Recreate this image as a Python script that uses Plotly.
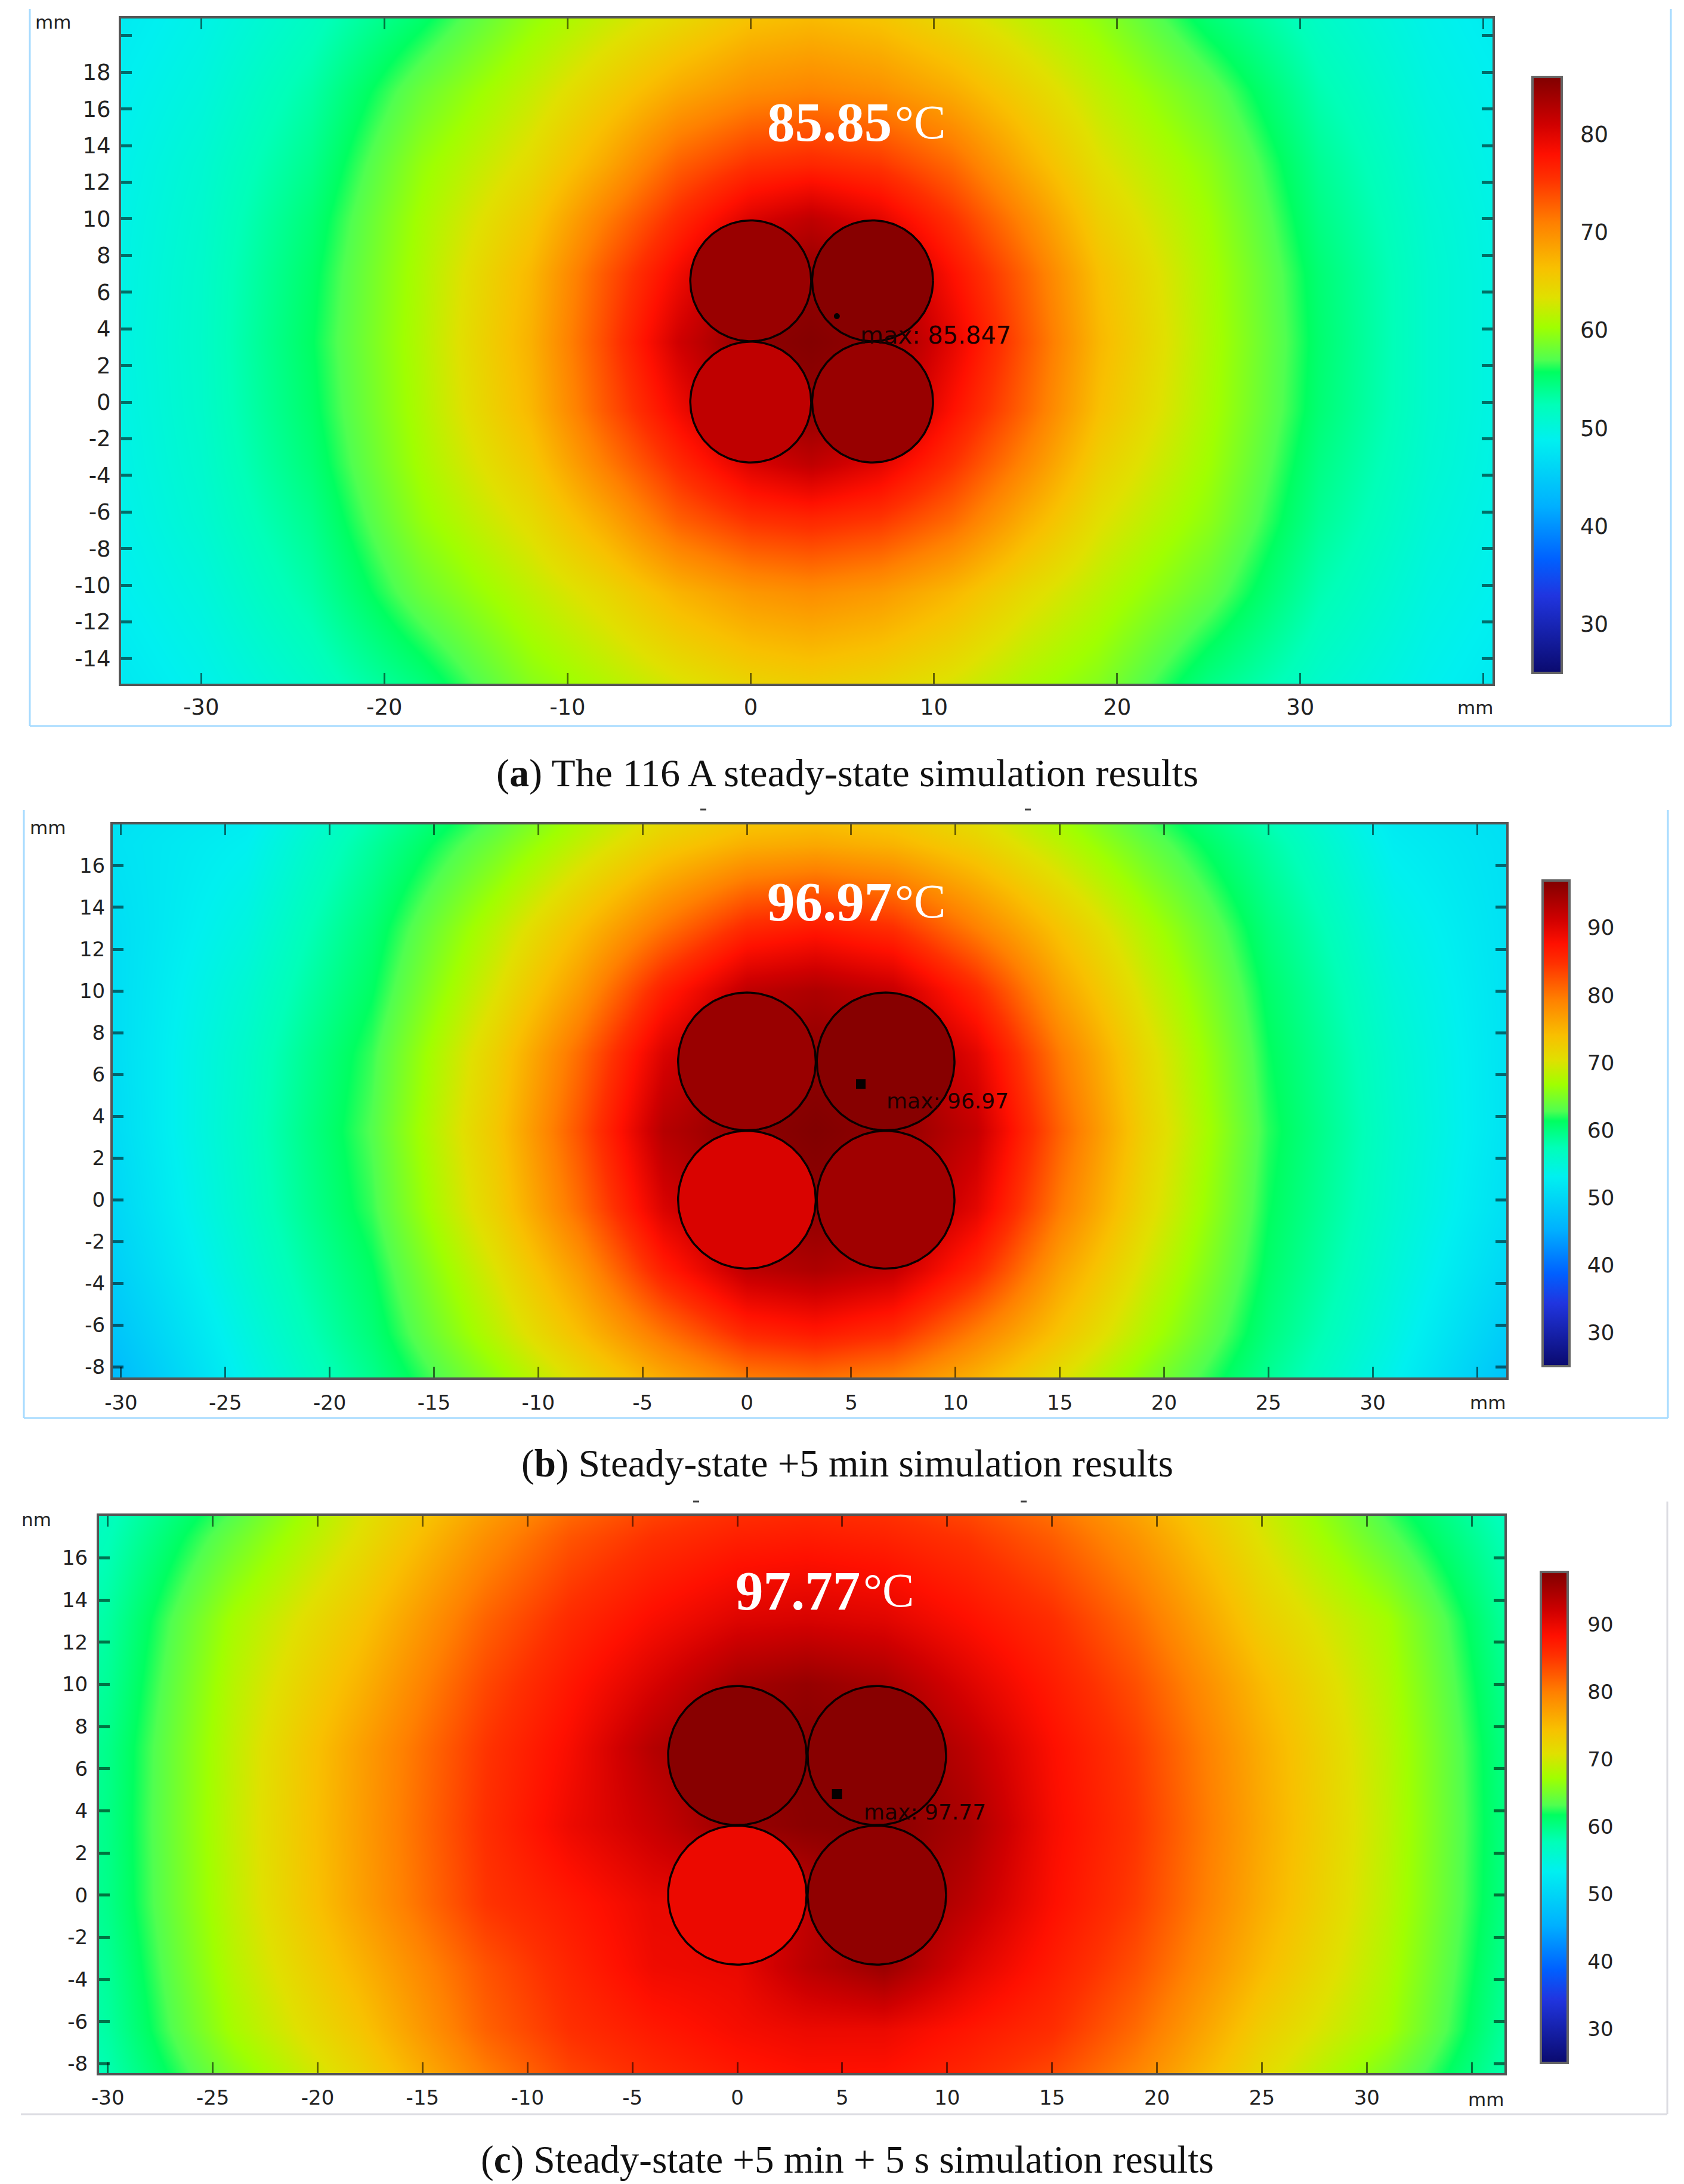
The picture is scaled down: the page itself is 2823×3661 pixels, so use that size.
import numpy as np
import plotly.graph_objects as go
from plotly.colors import sample_colorscale

W, H = 2823, 3661

COLORSCALE = [
    [0.00, "rgb(10,10,110)"], [0.13, "rgb(32,53,224)"], [0.19, "rgb(0,96,255)"],
    [0.28, "rgb(0,176,255)"], [0.39, "rgb(0,240,240)"], [0.45, "rgb(0,255,184)"],
    [0.505, "rgb(0,255,96)"], [0.525, "rgb(80,255,80)"], [0.58, "rgb(160,255,0)"],
    [0.63, "rgb(224,224,0)"], [0.68, "rgb(248,192,0)"], [0.755, "rgb(255,128,0)"],
    [0.83, "rgb(255,48,0)"], [0.87, "rgb(255,16,0)"], [0.92, "rgb(208,0,0)"],
    [1.00, "rgb(128,0,0)"],
]
T_MIN = 25.0

# ---- panel (a)
a_x = [-36, -30, -24, -18, -12, -8, -4, 0, 3.3, 7, 11, 15, 19, 25, 31, 37, 42]
a_y = [-16, -10.4, -6.4, -3.4, -0.4, 3.3, 7, 10, 13, 17, 22]
a_T = [
    [47.4, 49.0, 51.2, 54.3, 58.9, 60.7, 62.5, 64.0, 64.5, 63.9, 62.5, 60.5, 58.8, 54.0, 51.0, 48.9, 47.6],
    [48.2, 50.0, 53.0, 58.0, 61.7, 64.2, 67.3, 69.3, 70.0, 69.1, 67.0, 64.0, 61.5, 57.7, 52.7, 49.8, 48.4],
    [48.5, 50.7, 54.0, 59.8, 63.9, 68.0, 72.8, 75.5, 76.2, 75.2, 72.3, 67.7, 63.5, 59.5, 53.8, 50.4, 48.7],
    [48.7, 51.0, 54.8, 60.6, 65.6, 71.0, 76.0, 80.3, 82.0, 79.8, 75.5, 70.4, 65.0, 60.3, 54.4, 50.8, 48.9],
    [48.8, 51.2, 55.3, 61.0, 67.0, 73.2, 78.8, 84.0, 84.8, 83.8, 78.0, 72.5, 66.4, 60.8, 55.0, 51.0, 49.0],
    [48.9, 51.3, 55.6, 61.2, 67.5, 74.0, 81.0, 85.0, 85.6, 84.8, 79.7, 73.4, 67.0, 61.0, 55.2, 51.0, 49.0],
    [48.8, 51.2, 55.3, 61.0, 67.0, 73.2, 78.8, 84.0, 84.8, 83.8, 78.0, 72.5, 66.4, 60.8, 55.0, 51.0, 49.0],
    [48.7, 51.0, 54.8, 60.6, 65.6, 71.0, 76.0, 80.3, 82.0, 79.8, 75.5, 70.4, 65.0, 60.3, 54.4, 50.8, 48.9],
    [48.5, 50.7, 54.0, 59.8, 63.9, 68.0, 72.8, 75.5, 76.2, 75.2, 72.3, 67.7, 63.5, 59.5, 53.8, 50.4, 48.7],
    [48.2, 50.0, 53.0, 58.0, 62.0, 65.0, 68.0, 70.0, 70.6, 69.8, 67.8, 64.8, 61.7, 57.7, 52.7, 49.8, 48.4],
    [47.6, 49.2, 51.4, 54.6, 59.1, 61.2, 63.0, 65.2, 65.8, 65.0, 63.0, 61.0, 59.0, 54.3, 51.2, 49.1, 47.8],
]
a_cable_T = [82.0, 84.4, 84.3, 85.4]   # LL, LR, UL, UR

# ---- panels (b) and (c) share one sampling grid
bc_x = [-34, -30, -24, -18, -12, -8, -4, 0, 3.3, 7, 11, 15, 19, 25, 31, 37]
bc_y = [-10, -6.4, -3.4, -0.4, 3.3, 7, 10, 13, 17, 20]
b_T = [
    [44.0, 46.0, 53.1, 58.6, 64.4, 68.7, 72.8, 75.4, 76.0, 75.0, 72.3, 68.3, 64.0, 58.3, 52.8, 46.0],
    [45.0, 48.0, 54.4, 60.3, 68.3, 74.1, 80.2, 85.5, 86.8, 85.0, 79.3, 73.5, 67.8, 60.0, 54.2, 48.0],
    [46.0, 49.3, 55.4, 61.2, 70.2, 77.3, 86.3, 92.5, 93.7, 92.0, 85.5, 76.5, 69.7, 60.9, 55.0, 49.5],
    [47.0, 50.2, 56.1, 62.3, 72.3, 80.8, 90.5, 95.3, 95.9, 95.1, 89.8, 79.6, 71.4, 61.5, 55.6, 50.5],
    [48.0, 50.8, 56.4, 62.9, 73.2, 82.5, 93.1, 96.0, 96.9, 95.9, 92.0, 81.4, 72.3, 62.0, 55.9, 51.0],
    [48.5, 51.0, 56.1, 62.3, 72.3, 80.8, 90.5, 95.3, 95.9, 95.1, 89.8, 79.6, 71.4, 61.5, 55.6, 51.0],
    [49.0, 51.0, 55.4, 61.2, 70.2, 77.3, 86.3, 92.5, 93.7, 92.0, 85.5, 76.5, 69.7, 60.9, 55.0, 51.0],
    [49.5, 51.0, 54.4, 60.3, 68.3, 74.1, 80.2, 85.5, 86.8, 85.0, 79.3, 73.5, 67.8, 60.0, 54.2, 51.0],
    [50.0, 51.5, 53.1, 58.6, 64.4, 68.7, 72.8, 75.4, 76.0, 75.0, 72.3, 68.3, 64.0, 58.3, 52.8, 51.0],
    [50.0, 51.0, 51.8, 56.6, 61.0, 65.0, 68.2, 69.8, 70.2, 69.7, 67.9, 64.7, 60.8, 56.2, 51.6, 50.5],
]
b_cable_T = [90.5, 94.7, 95.2, 96.5]

c_T = [
    [54.7, 57.6, 64.5, 71.1, 78.6, 82.9, 85.0, 86.5, 87.2, 87.0, 85.2, 82.3, 78.2, 70.6, 63.7, 57.3],
    [55.5, 58.8, 67.6, 73.9, 82.0, 85.5, 87.5, 89.0, 89.8, 89.8, 87.8, 85.7, 81.4, 73.0, 67.4, 58.4],
    [56.0, 59.3, 68.5, 75.6, 83.0, 86.5, 89.5, 90.0, 93.5, 96.0, 91.0, 87.3, 83.3, 75.0, 68.1, 59.0],
    [56.4, 59.9, 69.0, 77.2, 85.1, 87.5, 90.0, 90.0, 93.0, 96.9, 93.3, 88.5, 84.6, 76.1, 68.6, 59.5],
    [56.5, 60.0, 69.2, 77.4, 85.6, 89.7, 92.5, 96.0, 97.0, 97.2, 94.8, 89.0, 85.1, 76.5, 68.8, 59.6],
    [56.4, 59.9, 69.0, 77.2, 85.1, 88.9, 94.0, 97.0, 97.2, 96.9, 93.3, 88.5, 84.6, 76.1, 68.6, 59.5],
    [56.0, 59.3, 68.5, 75.6, 83.8, 87.7, 91.4, 95.1, 96.2, 94.9, 91.0, 87.3, 83.3, 75.0, 68.1, 59.0],
    [55.5, 58.8, 67.6, 73.9, 82.0, 86.0, 88.8, 91.0, 91.5, 90.8, 88.4, 85.7, 81.4, 73.0, 67.4, 58.4],
    [54.7, 57.6, 64.5, 71.1, 78.6, 82.9, 85.4, 86.9, 87.3, 86.7, 85.1, 82.3, 78.2, 70.6, 63.7, 57.3],
    [54.0, 56.5, 61.4, 69.4, 75.2, 79.0, 81.9, 83.4, 83.9, 83.3, 81.6, 78.7, 74.9, 68.9, 61.2, 56.0],
]
c_cable_T = [89.8, 96.6, 97.2, 97.2]

PANELS = [
    dict(
        x=a_x, y=a_y, z=a_T, cable=a_cable_T, tmax=85.85,
        box=(203, 2502, 31, 1146), xr=(-34.37, 40.49), yr=(-15.37, 20.94),
        xt=[-30, -20, -10, 0, 10, 20, 30, 40], xl=["-30", "-20", "-10", "0", "10", "20", "30", ""],
        yt=[-14, -12, -10, -8, -6, -4, -2, 0, 2, 4, 6, 8, 10, 12, 14, 16, 18, 20],
        yl=["-14", "-12", "-10", "-8", "-6", "-4", "-2", "0", "2", "4", "6", "8", "10", "12", "14", "16", "18", ""],
        fs=37, cbar=(2569, 2618, 129, 1128), cbt=[30, 40, 50, 60, 70, 80], xsoff=4, ysoff=6, cbfs=37, cbgap=22,
        peak=(4.7, 4.69), peak_sym="circle", peak_size=10,
        max_text="max: 85.847", max_pos=(5.95, 3.65), max_fs=40,
        mm_top=("mm", 89, 37), mm_bot=(2473, 1186),
        big="85.85", big_split=(1496, 205), cap_y=1296, cap_fs=66,
    ),
    dict(
        x=bc_x, y=bc_y, z=b_T, cable=b_cable_T, tmax=96.97,
        box=(189, 2525, 1382, 2309), xr=(-30.4, 36.4), yr=(-8.51, 17.97),
        xt=[-30, -25, -20, -15, -10, -5, 0, 5, 10, 15, 20, 25, 30, 35],
        xl=["-30", "-25", "-20", "-15", "-10", "-5", "0", "5", "10", "15", "20", "25", "30", ""],
        yt=[-8, -6, -4, -2, 0, 2, 4, 6, 8, 10, 12, 14, 16, 18],
        yl=["-8", "-6", "-4", "-2", "0", "2", "4", "6", "8", "10", "12", "14", "16", ""],
        fs=34, cbar=(2586, 2631, 1476, 2290), cbt=[30, 40, 50, 60, 70, 80, 90], xsoff=9, ysoff=2, cbfs=36, cbgap=21,
        peak=(5.46, 5.54), peak_sym="square", peak_size=16,
        max_text="max: 96.97", max_pos=(6.66, 4.74), max_fs=36,
        mm_top=("mm", 80, 1387), mm_bot=(2494, 2351),
        big="96.97", big_split=(1496, 1511), cap_y=2453, cap_fs=65,
    ),
    dict(
        x=bc_x, y=bc_y, z=c_T, cable=c_cable_T, tmax=97.77,
        box=(166, 2522, 2541, 3475), xr=(-30.42, 36.56), yr=(-8.44, 17.99),
        xt=[-30, -25, -20, -15, -10, -5, 0, 5, 10, 15, 20, 25, 30, 35],
        xl=["-30", "-25", "-20", "-15", "-10", "-5", "0", "5", "10", "15", "20", "25", "30", ""],
        yt=[-8, -6, -4, -2, 0, 2, 4, 6, 8, 10, 12, 14, 16, 18],
        yl=["-8", "-6", "-4", "-2", "0", "2", "4", "6", "8", "10", "12", "14", "16", ""],
        fs=34, cbar=(2583, 2628, 2635, 3458), cbt=[30, 40, 50, 60, 70, 80, 90], xsoff=8, ysoff=8, cbfs=34, cbgap=25,
        peak=(4.75, 4.79), peak_sym="square", peak_size=17,
        max_text="max: 97.77", max_pos=(6.0, 3.94), max_fs=36,
        mm_top=("nm", 61, 2547), mm_bot=(2491, 3519),
        big="97.77", big_split=(1443, 2666), cap_y=3620, cap_fs=65,
    ),
]
CAPTIONS = [
    ("a", " The 116 A steady-state simulation results"),
    ("b", " Steady-state +5 min simulation results"),
    ("c", " Steady-state +5 min + 5 s simulation results"),
]
CABLE_CX = [0.0, 6.65, 0.0, 6.65]
CABLE_CY = [0.0, 0.0, 6.62, 6.62]
CABLE_R = 3.3
MM_FONT = 31


def px(v):
    return v / W


def py(v):
    return 1 - v / H


fig = go.Figure()
annotations, shapes, layout_axes = [], [], {}
theta = np.linspace(0, 2 * np.pi, 181)


def note(text, x, y, font, xref="paper", yref="paper", xanchor="center", yanchor="middle"):
    annotations.append(dict(text=text, xref=xref, yref=yref, x=x, y=y, xanchor=xanchor, yanchor=yanchor,
                            showarrow=False, font=font, borderpad=0))


for i, p in enumerate(PANELS):
    n = "" if i == 0 else str(i + 1)
    xa, ya = "x" + n, "y" + n
    l, r, t, b = p["box"]
    cl, cr, ct, cb = p["cbar"]
    fig.add_trace(go.Heatmap(
        x=p["x"], y=p["y"], z=p["z"], zmin=T_MIN, zmax=p["tmax"], zsmooth="best",
        colorscale=COLORSCALE, xaxis=xa, yaxis=ya, hoverinfo="skip",
        colorbar=dict(
            x=px(cl), xanchor="left", xpad=0, y=py(ct), yanchor="top", ypad=0,
            lenmode="fraction", len=(cb - ct) / H, thicknessmode="pixels", thickness=cr - cl,
            tickmode="array", tickvals=p["cbt"], ticks="outside", ticklen=p["cbgap"], tickwidth=1,
            tickcolor="rgba(0,0,0,0)",
            tickfont=dict(family="DejaVu Sans", size=p["cbfs"], color="#222222"),
            outlinecolor="#666666", outlinewidth=4, borderwidth=0,
        ),
    ))
    for cx, cy, T in zip(CABLE_CX, CABLE_CY, p["cable"]):
        col = sample_colorscale(COLORSCALE, (T - T_MIN) / (p["tmax"] - T_MIN))[0]
        fig.add_trace(go.Scatter(
            x=cx + CABLE_R * np.cos(theta), y=cy + CABLE_R * np.sin(theta), mode="lines",
            fill="toself", fillcolor=col, line=dict(color="#0a0000", width=3.5),
            xaxis=xa, yaxis=ya, hoverinfo="skip", showlegend=False,
        ))
    fig.add_trace(go.Scatter(
        x=[p["peak"][0]], y=[p["peak"][1]], mode="markers",
        marker=dict(symbol=p["peak_sym"], size=p["peak_size"], color="#050000"),
        xaxis=xa, yaxis=ya, hoverinfo="skip", showlegend=False,
    ))
    common = dict(showgrid=False, zeroline=False, showline=True, linecolor="#555555", linewidth=4,
                  mirror="ticks", ticks="inside", ticklen=18, tickcolor="rgba(0,0,0,0.55)",
                  tickmode="array", tickfont=dict(family="DejaVu Sans", size=p["fs"], color="#222222"))
    layout_axes["xaxis" + n] = dict(
        common, domain=[px(l), px(r)], range=list(p["xr"]), anchor=ya, tickvals=p["xt"], ticktext=p["xl"],
        tickwidth=3, ticklabelstandoff=p["xsoff"],
    )
    layout_axes["yaxis" + n] = dict(
        common, domain=[py(b), py(t)], range=list(p["yr"]), anchor=xa, tickvals=p["yt"], ticktext=p["yl"],
        tickwidth=5, ticklabelstandoff=p["ysoff"],
    )
    # the colorbar's short ticks sit inside the bar, on both edges
    for v in p["cbt"]:
        yy = ct + (cb - ct) * (p["tmax"] - v) / (p["tmax"] - T_MIN)
        for e0, e1 in [(cl, cl + 11), (cr - 11, cr)]:
            shapes.append(dict(type="line", xref="paper", yref="paper", x0=px(e0), x1=px(e1),
                               y0=py(yy), y1=py(yy), line=dict(color="#111111", width=2)))
    small = dict(family="DejaVu Sans", size=MM_FONT, color="#222222")
    note(p["mm_top"][0], px(p["mm_top"][1]), py(p["mm_top"][2]), small)
    note("mm", px(p["mm_bot"][0]), py(p["mm_bot"][1]), small)
    note(p["max_text"], p["max_pos"][0], p["max_pos"][1],
         dict(family="DejaVu Sans", size=p["max_fs"], color="#1a0000"), xref=xa, yref=ya, xanchor="left")
    # big white temperature
    sx, sy = p["big_split"]
    note("<b>" + p["big"] + "</b>", px(sx), py(sy), dict(family="Liberation Serif", size=93, color="white"), xanchor="right")
    note("°C", px(sx + 3), py(sy), dict(family="Liberation Serif", size=80, color="white"), xanchor="left")
    k, cap = CAPTIONS[i]
    note(f"(<b>{k}</b>){cap}", px(1420), py(p["cap_y"]), dict(family="Liberation Serif", size=p["cap_fs"], color="#111111"))

# panel frames
FRAME_BLUE = "#a6dbff"
FRAME_GREY = "#dcdce2"
frames = [
    (50, 15, 50, 1217, FRAME_BLUE), (50, 1217, 2801, 1217, FRAME_BLUE), (2801, 15, 2801, 1217, FRAME_BLUE),
    (40, 1358, 40, 2377, FRAME_BLUE), (40, 2377, 2796, 2377, FRAME_BLUE), (2796, 1358, 2796, 2377, FRAME_BLUE),
    (35, 3544, 2795, 3544, FRAME_GREY), (2795, 2517, 2795, 3544, FRAME_GREY),
]
for x0, y0, x1, y1, c in frames:
    shapes.append(dict(type="line", xref="paper", yref="paper", x0=px(x0), x1=px(x1), y0=py(y0), y1=py(y1),
                       line=dict(color=c, width=3)))
# clipped remnants of tick labels above panels (b) and (c)
for x0, y0 in [(1179, 1357), (1723, 1357), (1167, 2517), (1716, 2517)]:
    shapes.append(dict(type="line", xref="paper", yref="paper", x0=px(x0 - 5), x1=px(x0 + 5), y0=py(y0), y1=py(y0),
                       line=dict(color="#444444", width=3)))

fig.update_layout(
    width=W, height=H, margin=dict(l=0, r=0, t=0, b=0, autoexpand=False), paper_bgcolor="white", plot_bgcolor="white",
    showlegend=False, annotations=annotations, shapes=shapes, **layout_axes,
)
fig.write_html("out.html", config={"displayModeBar": False}, post_script="document.body.style.margin='0';")
